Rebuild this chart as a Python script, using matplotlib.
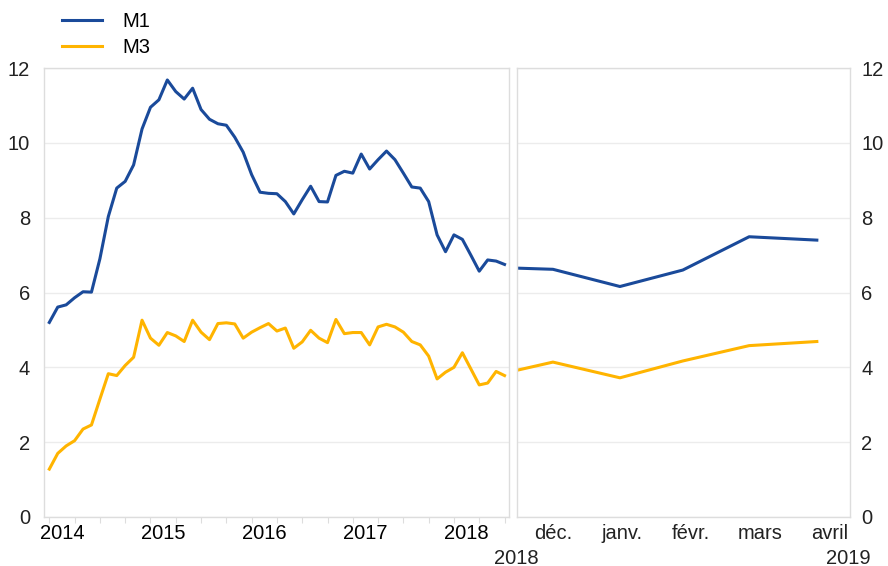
import matplotlib
matplotlib.use('Agg')
import matplotlib.pyplot as plt
import numpy as np

# monthly data, Jan 2014 - Jul 2018
m1_hist = [5.20, 5.61, 5.67, 5.86, 6.02, 6.01, 6.90, 8.03, 8.79, 8.97, 9.41, 10.37,
           10.95, 11.15, 11.68, 11.37, 11.17, 11.46, 10.89, 10.63, 10.51, 10.47, 10.15, 9.75,
           9.15, 8.68, 8.65, 8.64, 8.43, 8.10, 8.48, 8.84, 8.43, 8.42, 9.13, 9.24,
           9.19, 9.70, 9.30, 9.55, 9.78, 9.55, 9.19, 8.82, 8.79, 8.43, 7.54, 7.09,
           7.54, 7.42, 7.00, 6.57, 6.87, 6.84, 6.75]
m3_hist = [1.28, 1.70, 1.90, 2.04, 2.35, 2.46, 3.15, 3.83, 3.78, 4.05, 4.27, 5.26,
           4.78, 4.59, 4.93, 4.84, 4.69, 5.26, 4.94, 4.74, 5.17, 5.19, 5.16, 4.78,
           4.94, 5.06, 5.17, 4.97, 5.05, 4.51, 4.68, 4.99, 4.78, 4.66, 5.28, 4.90,
           4.93, 4.93, 4.60, 5.08, 5.15, 5.08, 4.94, 4.69, 4.60, 4.30, 3.69, 3.87,
           4.00, 4.39, 3.96, 3.53, 3.58, 3.89, 3.78]
years = ['2014', '2015', '2016', '2017', '2018']

# right panel, x in months from december 2018
proj_x = [-0.5, 0.0, 0.97, 1.88, 2.84, 3.82]
m1_proj = [6.65, 6.62, 6.16, 6.60, 7.49, 7.40]
m3_proj = [3.93, 4.14, 3.72, 4.17, 4.58, 4.69]
months = ['déc.', 'janv.', 'févr.', 'mars', 'avril']

blue = '#1a4a9a'
yellow = '#ffb400'
grid_c = '#ececec'
fs = 14.5

plt.rcParams['font.family'] = ['Liberation Sans', 'DejaVu Sans']

fig = plt.figure(figsize=(8.88, 5.66), dpi=100)
ax1 = fig.add_axes([44/888, 49/566, 465/888, 449/566])
ax2 = fig.add_axes([517/888, 49/566, 333/888, 449/566])

xm = np.arange(len(m1_hist))
ax1.plot(xm, m1_hist, color=blue, lw=2.2, label='M1')
ax1.plot(xm, m3_hist, color=yellow, lw=2.2, label='M3')
ax2.plot(proj_x, m1_proj, color=blue, lw=2.2)
ax2.plot(proj_x, m3_proj, color=yellow, lw=2.2)

for ax in (ax1, ax2):
    ax.set_ylim(0, 12)
    ax.set_yticks(range(0, 13, 2))
    ax.grid(axis='y', color=grid_c, lw=1)
    ax.set_axisbelow(True)
    for s in ax.spines.values():
        s.set_color('#dddddd')
        s.set_linewidth(1)
    ax.tick_params(labelsize=fs, colors='#222222', length=0)

ax1.set_xlim(-0.63, 54.53)
ax1.set_xticks(np.arange(0, 55, 3))
ax1.set_xticklabels([])
ax1.tick_params(axis='x', length=4, color='#dddddd')
ax1.set_xticks(np.arange(len(years)) * 12 + 1.5, minor=True)
ax1.set_xticklabels(years, minor=True)
ax1.tick_params(axis='x', which='minor', length=0, pad=5, labelsize=fs)
ax1.tick_params(axis='y', pad=10)

ax2.set_xlim(-0.52, 4.30)
ax2.set_xticks(range(len(months)))
ax2.set_xticklabels(months)
ax2.tick_params(axis='x', pad=5)
ax2.yaxis.tick_right()
ax2.tick_params(axis='y', pad=8)

fig.text(516/888, 1 - 558/566, '2018', ha='center', va='center', fontsize=fs, color='#222222')
fig.text(848/888, 1 - 558/566, '2019', ha='center', va='center', fontsize=fs, color='#222222')

fig.legend(loc='upper left', bbox_to_anchor=(50/888, 1.0), frameon=False, fontsize=fs,
           handlelength=2.0, handletextpad=1.0, labelspacing=0.35, borderaxespad=0.2)

fig.savefig('out.png', dpi=100)
